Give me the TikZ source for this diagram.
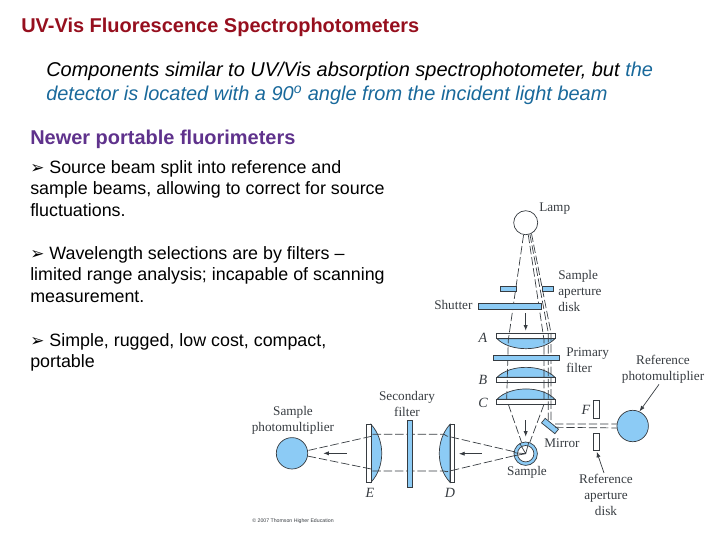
\documentclass[tikz,border=0pt]{standalone}
\usepackage{fontspec}
\setmainfont{Liberation Sans}
\newfontfamily\labelfont{Liberation Serif}
\newfontfamily\symfont{DejaVu Sans}
\usetikzlibrary{calc, positioning, arrows.meta}
\definecolor{lensblue}{RGB}{140,203,245}
\definecolor{titlered}{RGB}{150,15,30}
\definecolor{tealblue}{RGB}{25,105,155}
\definecolor{headpurple}{RGB}{95,50,140}
\definecolor{inkgray}{RGB}{55,60,65}
\tikzset{
    bodytext/.style={anchor=north west, inner sep=0pt, align=left, font=\fontsize{12.7pt}{15.3pt}\selectfont},
    partlabel/.style={inner sep=0pt, align=center, text=inkgray, font=\labelfont\fontsize{9.4pt}{11.4pt}\selectfont},
    partletter/.style={partlabel, font=\labelfont\itshape\fontsize{10pt}{11pt}\selectfont},
    part/.style={draw=inkgray, fill=lensblue, line width=0.5pt},
    blank/.style={draw=inkgray, fill=white, line width=0.5pt},
    beam/.style={draw=inkgray, line width=0.5pt, dash pattern=on 6pt off 2pt},
    pointer/.style={draw=inkgray, line width=0.5pt, -{Latex[length=4pt, width=3pt]}},
    round part/.style={part, circle, inner sep=0pt}
}
\begin{document}
\begin{tikzpicture}[x=0.025cm, y=-0.025cm]
    \useasboundingbox (0,0) rectangle (720,540);

    % slide text
    \node[anchor=west, inner sep=0pt, text=titlered, font=\bfseries\fontsize{14.2pt}{16pt}\selectfont] (title) at (21,27) {UV-Vis Fluorescence Spectrophotometers};
    \node[bodytext, font=\itshape\fontsize{14.2pt}{17pt}\selectfont] (intro) at (46,62) {Components similar to UV/Vis absorption spectrophotometer, but \textcolor{tealblue}{the}\\ \textcolor{tealblue}{detector is located with a 90\textsuperscript{o} angle from the incident light beam}};
    \node[anchor=west, inner sep=0pt, text=headpurple, font=\bfseries\fontsize{14.2pt}{16pt}\selectfont] (newer) at (30,139) {Newer portable fluorimeters};
    \node[bodytext] (itemsource) at (30,160) {{\symfont\fontsize{12pt}{12pt}\selectfont ➢} Source beam split into reference and\\ sample beams, allowing to correct for source\\ fluctuations.};
    \node[bodytext] (itemfilter) at (30,246) {{\symfont\fontsize{12pt}{12pt}\selectfont ➢} Wavelength selections are by filters --\\ limited range analysis; incapable of scanning\\ measurement.};
    \node[bodytext] (itemcost) at (30,333) {{\symfont\fontsize{12pt}{12pt}\selectfont ➢} Simple, rugged, low cost, compact,\\ portable};

    % lenses
    \draw[part] (497,338.7) .. controls (510,352) and (542,352) .. (555,338.7) -- cycle;
    \draw[part] (497,377.3) .. controls (510,364) and (542,364) .. (555,377.3) -- cycle;
    \draw[part] (497,399.3) .. controls (510,385.5) and (542,385.5) .. (555,399.3) -- cycle;
    \draw[part] (450,424.3) .. controls (435.7,440) and (435.7,467) .. (450,482.3) -- cycle;
    \draw[part] (371,424.3) .. controls (385.3,440) and (385.3,467) .. (371,482.3) -- cycle;
    \draw[blank] (496.3,333.3) rectangle (555,338.7);
    \draw[blank] (496.3,377.3) rectangle (555,382.7);
    \draw[blank] (496.3,399.3) rectangle (555,404.3);
    \draw[blank] (450,424.3) rectangle (454.7,482.3);
    \draw[blank] (366.3,424.3) rectangle (371,482.3);

    % components
    \node[draw=inkgray, fill=white, circle, inner sep=0pt, line width=0.5pt, minimum size=0.6cm] (lamp) at (525.7,222.7) {};
    \node[round part, minimum size=0.785cm] (refpmt) at (632.7,426) {};
    \node[round part, minimum size=0.785cm] (samplepmt) at (292,453.3) {};
    \node[round part, minimum size=0.585cm] (sample) at (525.7,453.7) {};
    \node[blank, circle, inner sep=0pt, minimum size=0.41cm] (cell) at (sample) {};
    \node[part, rotate=-39, inner sep=0pt, minimum width=0.43cm, minimum height=0.145cm] (mirror) at (550,426) {};

    % beams
    \coordinate (aleft) at (508.3,340);
    \coordinate (aright) at (544,340);
    \coordinate (cleft) at (506.7,400);
    \coordinate (cright) at (544,400);
    \coordinate (refa) at (548.3,333);
    \coordinate (refb) at (551,333);
    \coordinate (dtop) at (446.7,436);
    \coordinate (dbot) at (446.7,471.7);
    \coordinate (etop) at (372.7,436);
    \coordinate (ebot) at (372.7,469.3);
    \draw[beam] (lamp.-100) -- (aleft) -- (cleft);
    \draw[beam] (lamp.-78) -- (aright) -- (cright);
    \draw[beam] (lamp.-70) -- (refa) -- (548.3,420);
    \draw[beam] (lamp.-62) -- (refb) -- (551,420);
    \draw[beam] (508.3,404.3) -- (sample.110);
    \draw[beam] (544,404.3) -- (sample.70);
    \draw[beam] (sample.170) -- (dtop) -- (444,434.3) -- (etop |- 0,434.3) -- (etop) -- (samplepmt.10);
    \draw[beam] (sample.190) -- (dbot) -- (444,471) -- (ebot |- 0,471) -- (ebot) -- (samplepmt.-10);
    \draw[beam] (555,424) -- (refpmt.173);
    \draw[beam] (555,427.3) -- (refpmt.187);
    \draw[inkgray, line width=0.5pt] (cell.center) -- (sample.120) (cell.center) -- (sample.75) (cell.center) -- (sample.175) (cell.center) -- (sample.190);

    % filters and apertures
    \draw[part] (500,286.7) rectangle (516.7,291);
    \draw[part] (542.3,286.7) rectangle (553.3,291);
    \draw[part] (478.3,303) rectangle (541.7,309.3);
    \draw[part] (493,355.3) rectangle (559,360.7);
    \draw[part] (407,420.7) rectangle (412.7,487);
    \draw[blank] (593.3,400.7) rectangle (599.3,418.7);
    \draw[blank] (593.3,433.3) rectangle (599.3,450.7);

    % direction arrows
    \coordinate (downa) at (525.7,313.3);
    \coordinate (downb) at (525.7,330.7);
    \coordinate (downc) at (525.7,420);
    \coordinate (downd) at (525.7,436.7);
    \coordinate (lefta) at (481.7,453.7);
    \coordinate (leftb) at (459,453.7);
    \coordinate (leftc) at (346.7,453.3);
    \coordinate (leftd) at (323.3,453.3);
    \draw[pointer] (downa) -- (downb);
    \draw[pointer] (downc) -- (downd);
    \draw[pointer] (lefta) -- (leftb);
    \draw[pointer] (leftc) -- (leftd);

    % labels
    \node[partlabel, anchor=west] (lamplabel) at (539,209) {Lamp};
    \node[partlabel, anchor=north west, align=left] (aperturelabel) at (558,270) {Sample\\ aperture\\ disk};
    \node[partlabel, anchor=west] (shutterlabel) at (434,305) {Shutter};
    \node[partletter] (lettera) at (483,338) {A};
    \node[partletter] (letterb) at (483,380) {B};
    \node[partletter] (letterc) at (483,403) {C};
    \node[partlabel, anchor=north west, align=left] (primarylabel) at (566,347) {Primary\\ filter};
    \node[partlabel] (reflabel) at (663,369) {Reference\\ photomultiplier};
    \node[partletter] (letterf) at (586,410) {F};
    \node[partlabel] (mirrorlabel) at (562,443) {Mirror};
    \node[partlabel] (samplelabel) at (527,472) {Sample};
    \node[partlabel] (refaperture) at (606,495) {Reference\\ aperture\\ disk};
    \node[partletter] (letterd) at (450,493) {D};
    \node[partletter] (lettere) at (370,493) {E};
    \node[partlabel] (secondarylabel) at (407,404) {Secondary\\ filter};
    \node[partlabel] (pmtlabel) at (293,420) {Sample\\ photomultiplier};
    \node[inner sep=0pt, text=inkgray, font=\fontsize{3.7pt}{5pt}\selectfont] (copyright) at (293,521) {© 2007 Thomson Higher Education};

    \draw[pointer] (reflabel.south) ++(-4,1) -- (refpmt.65);
    \draw[pointer] (refaperture.north) ++(-2,-1) -- (596.7,451.7);
\end{tikzpicture}
\end{document}
